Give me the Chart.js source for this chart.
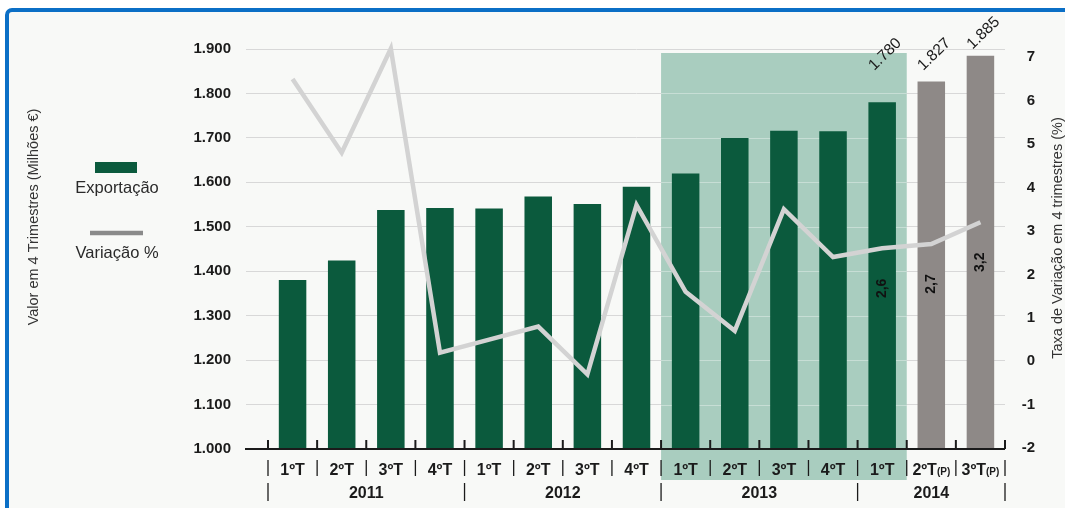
<!DOCTYPE html>
<html lang="pt">
<head>
<meta charset="utf-8">
<title>Exportação – valor e variação em 4 trimestres</title>
<script src="https://cdn.jsdelivr.net/npm/chart.js@4"></script>
<style>
  html, body { margin: 0; padding: 0; background: #fff; }
  #wrap { position: relative; width: 1065px; height: 508px; overflow: hidden; }
  #frame {
    position: absolute; left: 5px; top: 8px; width: 1080px; height: 530px;
    border: 4px solid #0b6fc6; border-radius: 7px; background: #f8f9f7;
  }
  #chart { position: absolute; left: 0; top: 0; }
</style>
</head>
<body>
<div id="wrap">
  <div id="frame"></div>
  <canvas id="chart" width="1065" height="508"></canvas>
</div>
<script>
// trimestres, anos e valores
const quarters = ['1ºT', '2ºT', '3ºT', '4ºT', '1ºT', '2ºT', '3ºT', '4ºT',
                  '1ºT', '2ºT', '3ºT', '4ºT', '1ºT', '2ºT(P)', '3ºT(P)'];
const years = ['2011', '2012', '2013', '2014'];
const quartersPerYear = [4, 4, 4, 3];
const exportValues = [1380, 1424, 1538, 1542, 1541, 1568, 1551, 1590,
                      1620, 1700, 1716, 1715, 1780, 1827, 1885];
const variationValues = [6.5, 4.8, 7.2, 0.2, 0.5, 0.8, -0.3, 3.6,
                         1.6, 0.7, 3.5, 2.4, 2.6, 2.7, 3.2];

// bloco sombreado (2013 + 1ºT 2014) e barras com valor escrito
const shadedFrom = 8;
const shadedTo = 12;
const labelledFrom = 12;

const GREEN = '#0b5a3d';
const GREY_BAR = '#8e8987';
const LINE_GREY = '#d3d3d3';
const SHADE = '#a9cdbf';
const INK = '#1b1b1b';
const FONT = '"Liberation Sans", Arial, Helvetica, sans-serif';

Chart.defaults.font.family = FONT;

const fmtThousands = v => (v / 1000).toFixed(3);
const fmtDecimal = v => String(v).replace('.', ',');

// fundo verde claro por trás das barras de 2013
const shadePlugin = {
  id: 'shade',
  beforeDatasetsDraw(chart) {
    const { ctx, chartArea: a, scales: { x, y } } = chart;
    const half = (x.getPixelForValue(1) - x.getPixelForValue(0)) / 2;
    const x0 = x.getPixelForValue(shadedFrom) - half;
    const x1 = x.getPixelForValue(shadedTo) + half;
    const top = a.top + 4;
    ctx.save();
    ctx.fillStyle = SHADE;
    ctx.fillRect(x0, top, x1 - x0, a.bottom + 31 - top);
    ctx.strokeStyle = 'rgba(255,255,255,0.35)';
    ctx.lineWidth = 1;
    y.ticks.forEach(t => {
      const py = Math.round(y.getPixelForValue(t.value)) + 0.5;
      if (py > top && py < a.bottom - 1) {
        ctx.beginPath();
        ctx.moveTo(x0, py);
        ctx.lineTo(x1, py);
        ctx.stroke();
      }
    });
    ctx.restore();
  }
};

// eixo horizontal, rótulos dos trimestres/anos, títulos, legenda e valores
const decorPlugin = {
  id: 'decor',
  afterDraw(chart) {
    const { ctx, chartArea: a, scales: { x } } = chart;
    const step = x.getPixelForValue(1) - x.getPixelForValue(0);
    const edge = i => x.getPixelForValue(0) - step / 2 + i * step;
    const vline = (px, y0, y1) => {
      ctx.beginPath();
      ctx.moveTo(px, y0);
      ctx.lineTo(px, y1);
      ctx.stroke();
    };

    ctx.save();
    ctx.strokeStyle = INK;
    ctx.fillStyle = INK;

    // linha de base e marcas
    ctx.lineWidth = 2;
    ctx.beginPath();
    ctx.moveTo(a.left - 23, a.bottom);
    ctx.lineTo(a.right, a.bottom);
    ctx.stroke();
    for (let i = 0; i <= quarters.length; i++) vline(edge(i), a.bottom - 9, a.bottom);

    // trimestres
    const bold16 = 'bold 16px ' + FONT;
    const bold10 = 'bold 10px ' + FONT;
    ctx.textAlign = 'left';
    ctx.textBaseline = 'alphabetic';
    quarters.forEach((q, i) => {
      const cx = x.getPixelForValue(i);
      const parts = q.split('(');
      const main = parts[0];
      const sub = parts[1] ? '(' + parts[1] : '';
      ctx.font = bold16;
      const wMain = ctx.measureText(main).width;
      ctx.font = bold10;
      const wSub = sub ? ctx.measureText(sub).width : 0;
      const sx = cx - (wMain + wSub) / 2;
      ctx.font = bold16;
      ctx.fillText(main, sx, a.bottom + 26);
      if (sub) {
        ctx.font = bold10;
        ctx.fillText(sub, sx + wMain, a.bottom + 26);
      }
    });
    ctx.lineWidth = 1.3;
    for (let i = 0; i <= quarters.length; i++) vline(edge(i), a.bottom + 11, a.bottom + 27);

    // anos
    ctx.font = 'bold 16px ' + FONT;
    ctx.textAlign = 'center';
    let start = 0;
    years.forEach((yr, k) => {
      const n = quartersPerYear[k];
      ctx.fillText(yr, (edge(start) + edge(start + n)) / 2, a.bottom + 49);
      vline(edge(start), a.bottom + 34, a.bottom + 52);
      start += n;
    });
    vline(edge(start), a.bottom + 34, a.bottom + 52);

    // títulos dos eixos
    ctx.fillStyle = '#333';
    ctx.font = '14.5px ' + FONT;
    ctx.textBaseline = 'middle';
    ctx.save();
    ctx.translate(34, 217);
    ctx.rotate(-Math.PI / 2);
    ctx.fillText('Valor em 4 Trimestres (Milhões €)', 0, 0);
    ctx.restore();
    ctx.save();
    ctx.translate(1058, 238);
    ctx.rotate(-Math.PI / 2);
    ctx.fillText('Taxa de Variação em 4 trimestres (%)', 0, 0);
    ctx.restore();

    // legenda
    ctx.fillStyle = GREEN;
    ctx.fillRect(95, 162, 42, 11);
    ctx.strokeStyle = '#8a8a8a';
    ctx.lineWidth = 4.5;
    ctx.beginPath();
    ctx.moveTo(90, 233);
    ctx.lineTo(143, 233);
    ctx.stroke();
    ctx.fillStyle = '#2a2a2a';
    ctx.font = '16.5px ' + FONT;
    ctx.textBaseline = 'alphabetic';
    ctx.fillText('Exportação', 117, 193);
    ctx.fillText('Variação %', 117, 258);

    // valores escritos nas últimas barras
    const bars = chart.getDatasetMeta(0).data;
    const pts = chart.getDatasetMeta(1).data;
    for (let i = labelledFrom; i < quarters.length; i++) {
      const b = bars[i];
      ctx.save();
      ctx.translate(b.x - 8, Math.min(b.y - 6, a.top + 22));
      ctx.rotate(-44 * Math.PI / 180);
      ctx.font = '15.5px ' + FONT;
      ctx.fillStyle = INK;
      ctx.textAlign = 'left';
      ctx.fillText(fmtThousands(exportValues[i]), 0, 0);
      ctx.restore();

      const p = pts[i];
      ctx.save();
      ctx.translate(p.x, p.y + 40);
      ctx.rotate(-Math.PI / 2);
      ctx.font = 'bold 14px ' + FONT;
      ctx.fillStyle = '#111';
      ctx.textAlign = 'center';
      ctx.textBaseline = 'middle';
      ctx.fillText(fmtDecimal(variationValues[i]), 0, 0);
      ctx.restore();
    }
    ctx.restore();
  }
};

new Chart(document.getElementById('chart'), {
  type: 'bar',
  data: {
    labels: quarters,
    datasets: [{
      label: 'Exportação',
      data: exportValues,
      backgroundColor: quarters.map(q => q.includes('(P)') ? GREY_BAR : GREEN),
      barPercentage: 0.56,
      categoryPercentage: 1,
      yAxisID: 'y',
      order: 2
    }, {
      type: 'line',
      label: 'Variação %',
      data: variationValues,
      borderColor: LINE_GREY,
      borderWidth: 4.5,
      borderJoinStyle: 'miter',
      pointRadius: 0,
      tension: 0,
      clip: false,
      yAxisID: 'y1',
      order: 1
    }]
  },
  options: {
    responsive: false,
    animation: false,
    layout: { padding: { top: 49, left: 0, right: 30, bottom: 0 } },
    plugins: {
      legend: { display: false },
      tooltip: { enabled: false }
    },
    scales: {
      x: {
        offset: true,
        grid: { display: false },
        border: { display: false },
        ticks: { display: false },
        afterFit: s => { s.height = 59; }
      },
      y: {
        position: 'left',
        min: 1000,
        max: 1900,
        ticks: {
          stepSize: 100,
          padding: 15,
          color: INK,
          font: { size: 15, weight: 'bold' },
          callback: v => fmtThousands(v)
        },
        grid: { color: '#d8d8d8', tickColor: '#d8d8d8', tickLength: 22, lineWidth: 1 },
        border: { display: false },
        afterFit: s => { s.width = 268; }
      },
      y1: {
        position: 'right',
        min: -2.02,
        max: 7.19,
        ticks: {
          stepSize: 1,
          includeBounds: false,
          padding: 10,
          crossAlign: 'far',
          color: INK,
          font: { size: 15, weight: 'bold' }
        },
        grid: { display: false },
        border: { display: false },
        afterFit: s => { s.width = 30; }
      }
    }
  },
  plugins: [shadePlugin, decorPlugin]
});
</script>
</body>
</html>
